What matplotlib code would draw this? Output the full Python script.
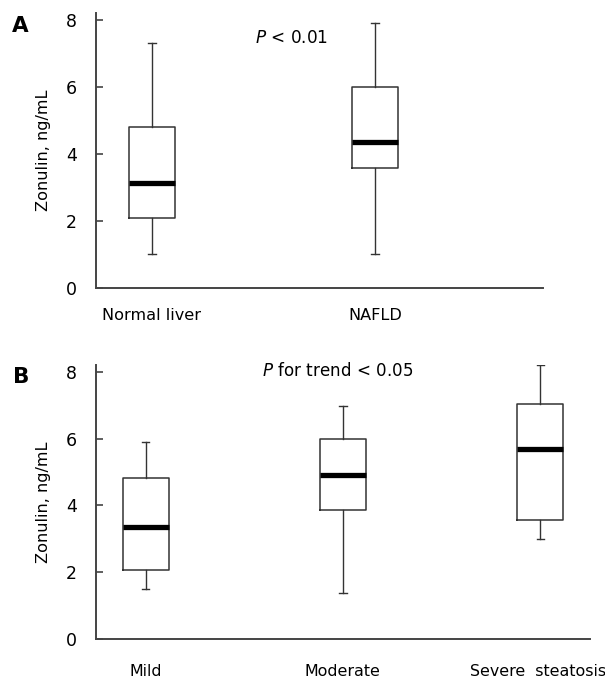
import matplotlib
matplotlib.use("Agg")
import matplotlib.pyplot as plt

# panel A: normal liver vs NAFLD
cats_a = ["Normal liver", "NAFLD"]
low_a = [1.0, 1.0]
q1_a = [2.1, 3.58]
med_a = [3.12, 4.35]
q3_a = [4.8, 6.0]
high_a = [7.3, 7.9]

# panel B: steatosis grades
cats_b = ["Mild", "Moderate", "Severe  steatosis"]
low_b = [1.51, 1.39, 3.0]
q1_b = [2.08, 3.86, 3.56]
med_b = [3.36, 4.92, 5.7]
q3_b = [4.83, 6.0, 7.03]
high_b = [5.91, 6.98, 8.19]

yticks = [0, 2, 4, 6, 8]
ylabel = "Zonulin, ng/mL"

plt.rcParams["font.family"] = ["DejaVu Sans"]
plt.rcParams["mathtext.fontset"] = "dejavusans"

fig = plt.figure(figsize=(6.05, 6.8), dpi=100)
ax_a = fig.add_axes([0.1587, 0.5765, 0.7388, 0.4039])
ax_b = fig.add_axes([0.1587, 0.0599, 0.8165, 0.4034])


def make_stats(cats, low, q1, med, q3, high):
    stats = []
    for i in range(len(cats)):
        stats.append({"label": cats[i], "whislo": low[i], "q1": q1[i],
                      "med": med[i], "q3": q3[i], "whishi": high[i],
                      "fliers": []})
    return stats


def draw(ax, cats, stats, width, capw, xlim):
    pos = list(range(1, len(cats) + 1))
    ax.bxp(stats, positions=pos, widths=width, capwidths=capw,
           showfliers=False,
           boxprops=dict(color="#333333", linewidth=1.1),
           whiskerprops=dict(color="#333333", linewidth=1.0),
           capprops=dict(color="#333333", linewidth=1.0),
           medianprops=dict(color="black", linewidth=3.8, solid_capstyle="butt"))
    ax.set_xlim(*xlim)
    ax.set_ylim(0, 8.2)
    ax.set_yticks(yticks)
    ax.set_xticks([])
    ax.tick_params(axis="y", direction="in", length=5, width=1.2,
                   color="#444444", pad=14, labelsize=12.5)
    for s in ["top", "right"]:
        ax.spines[s].set_visible(False)
    for s in ["left", "bottom"]:
        ax.spines[s].set_color("#444444")
        ax.spines[s].set_linewidth(1.4)
    ax.set_ylabel(ylabel, fontsize=11.6, labelpad=10.5)
    return pos


pos_a = draw(ax_a, cats_a, make_stats(cats_a, low_a, q1_a, med_a, q3_a, high_a),
             0.205, 0.032, (0.749, 2.753))
for p, c in zip(pos_a, cats_a):
    ax_a.annotate(c, xy=(p, 0), xycoords="data", xytext=(0, -19.5),
                  textcoords="offset points", ha="center", va="center",
                  fontsize=11.6, annotation_clip=False)
ax_a.text(1.462, 7.46, r"$\mathit{P}$ < 0.01", fontsize=12.2, ha="left", va="center")

pos_b = draw(ax_b, cats_b, make_stats(cats_b, low_b, q1_b, med_b, q3_b, high_b),
             0.233, 0.037, (0.749, 3.252))
for p, c in zip(pos_b, cats_b):
    if p == pos_b[-1]:
        ax_b.annotate(c, xy=(p, 0), xycoords="data", xytext=(-50.5, -23.3),
                      textcoords="offset points", ha="left", va="center",
                      fontsize=11.4, annotation_clip=False)
    else:
        ax_b.annotate(c, xy=(p, 0), xycoords="data", xytext=(0, -23.3),
                      textcoords="offset points", ha="center", va="center",
                      fontsize=11.4, annotation_clip=False)
ax_b.text(1.59, 8.03, r"$\mathit{P}$ for trend < 0.05", fontsize=12.1, ha="left", va="center")

fig.text(12 / 605, 1 - 26 / 680, "A", fontsize=15.5, fontweight="bold", ha="left", va="center")
fig.text(13 / 605, 1 - 377 / 680, "B", fontsize=15.5, fontweight="bold", ha="left", va="center")

fig.savefig("out.png", dpi=100)
